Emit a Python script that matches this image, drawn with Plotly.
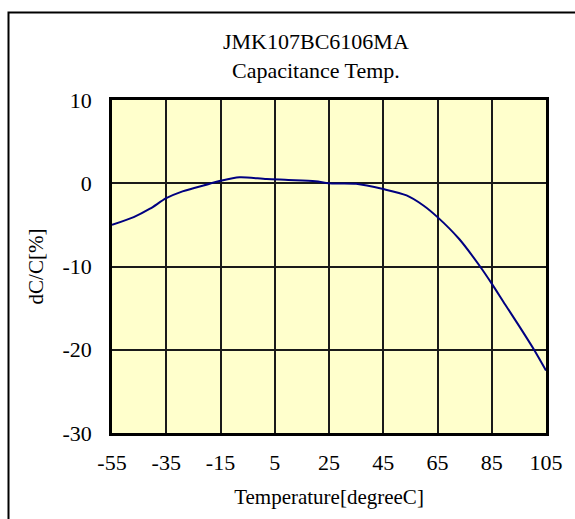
import plotly.graph_objects as go

temperature = [-55, -47, -41, -35, -29, -19, -15, -8, 2, 10, 20, 25, 35, 45, 53.6, 59.8, 65, 73, 80.7, 85, 90, 95, 100.6, 105]
dc_c = [-5.0, -4.07, -3.06, -1.8, -0.98, -0.06, 0.3, 0.73, 0.5, 0.4, 0.25, 0.0, -0.06, -0.7, -1.46, -2.67, -4.07, -6.7, -10.0, -12.06, -14.6, -17.1, -20.0, -22.5]

x_ticks = [-55, -35, -15, 5, 25, 45, 65, 85, 105]
y_ticks = [-30, -20, -10, 0, 10]

FONT = "Liberation Serif"
W, H = 575, 519
L, R, T, B = 112, 29, 100, 86
pw, ph = W - L - R, H - T - B

fig = go.Figure()
fig.add_trace(go.Scatter(
    x=temperature, y=dc_c, mode="lines",
    line=dict(color="#000080", width=2, shape="spline", smoothing=0.8),
    hoverinfo="x+y", showlegend=False,
))

axis_common = dict(
    showline=True, linecolor="black", linewidth=2.5, mirror=True,
    showgrid=True, gridcolor="#1a1a1a", gridwidth=1.5,
    zeroline=False, ticks="",
    tickfont=dict(family=FONT, size=22, color="black"),
)

fig.update_xaxes(
    range=[-55, 105], tickvals=x_ticks, ticktext=[str(v) for v in x_ticks],
    title=dict(text="Temperature[degreeC]", font=dict(family=FONT, size=21, color="black"), standoff=16),
    ticklabelstandoff=8,
    **axis_common,
)
fig.update_yaxes(
    range=[-30, 10], tickvals=y_ticks, ticktext=[str(v) for v in y_ticks],
    title=dict(text="dC/C[%]", font=dict(family=FONT, size=21, color="black"), standoff=14),
    ticklabelstandoff=13,
    **axis_common,
)

fig.add_annotation(
    text="JMK107BC6106MA<br>Capacitance Temp.",
    xref="paper", yref="paper",
    x=(316 - L) / pw, y=(H - B - 56) / ph,
    xanchor="center", yanchor="middle", showarrow=False,
    font=dict(family=FONT, size=22, color="black"),
)

# outer frame (left and top edges visible, right/bottom run off the canvas)
fig.add_shape(
    type="rect", xref="paper", yref="paper",
    x0=(8.5 - L) / pw, x1=(W + 10 - L) / pw,
    y0=-(B + 10) / ph, y1=(H - B - 12.5) / ph,
    line=dict(color="black", width=2), fillcolor="rgba(0,0,0,0)", layer="below",
)

fig.update_layout(
    width=W, height=H,
    margin=dict(l=L, r=R, t=T, b=B, pad=0),
    paper_bgcolor="white", plot_bgcolor="#FFFFCC",
    font=dict(family=FONT, color="black"),
)

fig.write_html(
    "out.html",
    config={"displayModeBar": False},
    post_script="document.body.style.margin='0';document.body.style.overflow='hidden';",
)
